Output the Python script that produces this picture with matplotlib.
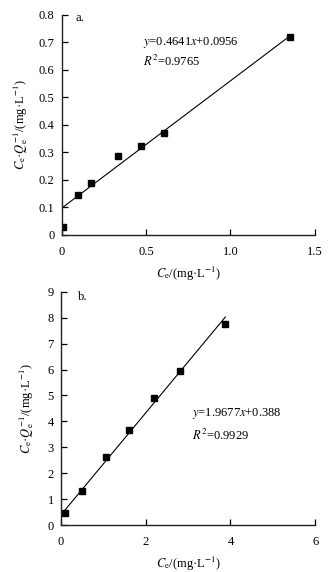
import numpy as np
import matplotlib
matplotlib.use('Agg')
from matplotlib import pyplot as plt

plt.rcParams['font.family'] = ['Liberation Serif', 'DejaVu Serif']
plt.rcParams['mathtext.fontset'] = 'stix'
plt.rcParams['font.size'] = 9

# panel a data
ce_a = [0.007, 0.096, 0.176, 0.332, 0.468, 0.605, 1.35]
ratio_a = [0.029, 0.145, 0.189, 0.286, 0.322, 0.369, 0.72]
slope_a, icpt_a = 0.4641, 0.0956
fit_range_a = [0.0, 1.35]

# panel b data
ce_b = [0.10, 0.49, 1.06, 1.61, 2.20, 2.81, 3.88]
ratio_b = [0.45, 1.32, 2.61, 3.67, 4.89, 5.96, 7.75]
slope_b, icpt_b = 1.9677, 0.388
fit_range_b = [0.06, 3.88]

ylabel = r'$C_\mathrm{e}$·$Q_\mathrm{e}^{-1}$/(mg·L$^{-1}$)'
xlabel = r'$C_\mathrm{e}$/(mg·L$^{-1}$)'

fig = plt.figure(figsize=(3.29, 5.72), dpi=100)
ax1 = fig.add_axes([0.187, 0.590, 0.770, 0.384])
ax2 = fig.add_axes([0.185, 0.082, 0.773, 0.408])


def style(ax):
    for s in ['top', 'right']:
        ax.spines[s].set_visible(False)
    for s in ['left', 'bottom']:
        ax.spines[s].set_color('#222222')
        ax.spines[s].set_linewidth(1.0)
    ax.tick_params(direction='in', length=4, width=0.9, labelsize=9)
    ax.tick_params(axis='x', pad=8)
    ax.tick_params(axis='y', pad=5)


# plot a
xa = np.array(fit_range_a)
ax1.plot(xa, slope_a * xa + icpt_a, color='black', lw=0.8)
ax1.plot(ce_a, ratio_a, 's', color='black', ms=4.5)
ax1.set_xlim(0, 1.5)
ax1.set_ylim(0, 0.8)
ax1.set_xticks([0, 0.5, 1.0, 1.5])
ax1.set_xticklabels(['0', '0.5', '1.0', '1.5'])
ax1.set_yticks(np.arange(0, 0.81, 0.1))
ax1.set_yticklabels(['0'] + ['%.1f' % v for v in np.arange(0.1, 0.81, 0.1)])
ax1.set_xlabel(xlabel, fontsize=9, labelpad=5)
ax1.set_ylabel(ylabel, fontsize=9, labelpad=6)
ax1.text(0.08, 0.79, 'a.', va='center')
ax1.text(0.48, 0.70, r'$y$=0.4641$x$+0.0956', va='center')
ax1.text(0.48, 0.63, r'$R^2$=0.9765', va='center')
style(ax1)

# plot b
xb = np.array(fit_range_b)
ax2.plot(xb, slope_b * xb + icpt_b, color='black', lw=0.8)
ax2.plot(ce_b, ratio_b, 's', color='black', ms=4.5)
ax2.set_xlim(0, 6)
ax2.set_ylim(0, 9)
ax2.set_xticks([0, 2, 4, 6])
ax2.set_yticks(range(0, 10))
ax2.set_xlabel(xlabel, fontsize=9, labelpad=5)
ax2.set_ylabel(ylabel, fontsize=9, labelpad=8)
ax2.text(0.4, 8.8, 'b.', va='center')
ax2.text(3.09, 4.32, r'$y$=1.9677$x$+0.388', va='center')
ax2.text(3.09, 3.47, r'$R^2$=0.9929', va='center')
style(ax2)

fig.savefig('out.png', dpi=100)
